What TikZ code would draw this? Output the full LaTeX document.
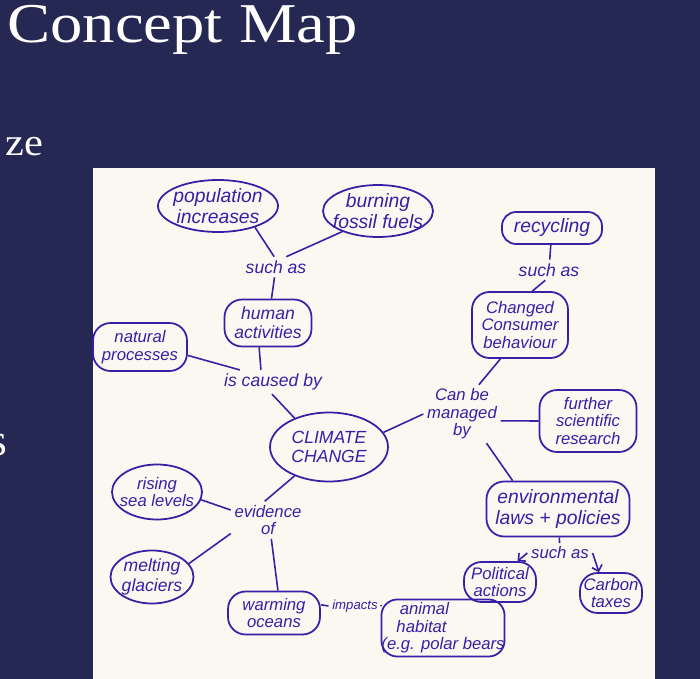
\documentclass[tikz,border=0pt]{standalone}
\usepackage{fontspec}
\setmainfont{Liberation Serif}
\newfontfamily\handfont{Liberation Sans}
\usepackage{xcolor}
\usepackage{tikz}
\usetikzlibrary{arrows.meta, shapes.geometric}

\definecolor{slidebg}{RGB}{36,40,82}
\definecolor{paper}{RGB}{250,248,241}
\definecolor{ink}{RGB}{58,30,165}

\newcommand{\handbig}{\handfont\itshape\fontsize{11}{12}\selectfont}
\newcommand{\handmid}{\handfont\itshape\fontsize{10}{11}\selectfont}
\newcommand{\handsmall}{\handfont\itshape\fontsize{9.5}{10}\selectfont}
\newcommand{\handtiny}{\handfont\itshape\fontsize{7.5}{8}\selectfont}

\begin{document}
\begin{tikzpicture}[x=0.02cm, y=-0.02cm,
  bubble/.style={draw=ink, line width=1pt, rounded corners=10pt, text=ink, align=center, inner sep=0pt, font=\handbig},
  oval/.style={bubble, ellipse, sharp corners, inner sep=-4pt},
  linkword/.style={text=ink, align=center, inner sep=2pt, font=\handmid},
  link/.style={ink, line width=0.9pt}]
% Slide background and the photo of the hand-drawn map
\fill[slidebg] (0,0) rectangle (700,679);
\useasboundingbox (0,0) rectangle (700,679);
\fill[paper] (93,168) rectangle (655,679);
% Slide text (the slide's letters are a little wider than Times)
\node[white, font=\fontsize{32}{36}\selectfont, anchor=base west, inner sep=0pt] (title) at (7,43) {\scalebox{1.15}[1]{Concept Map}};
\node[white, font=\fontsize{22}{26}\selectfont, anchor=base west, inner sep=0pt] (zefrag) at (5,155) {\scalebox{1.1}[1]{ze}};
\node[white, font=\fontsize{26}{30}\selectfont, anchor=base east, inner sep=0pt] (sfrag) at (8,455) {s};

% Causes (top left)
\node[oval, minimum width=2.4cm, minimum height=1.04cm] (pop) at (218,206) {population\\increases};
\node[oval, minimum width=2.2cm, minimum height=1.04cm] (fuels) at (378,211) {burning\\fossil fuels};
\node[linkword] (such1) at (276,267) {such as};
\node[bubble, font=\handmid, minimum width=1.74cm, minimum height=0.94cm] (human) at (268,323) {human\\activities};
\node[bubble, font=\handsmall, minimum width=1.88cm, minimum height=0.96cm] (natural) at (140,347) {natural\\processes};
\node[linkword] (caused) at (273,382) {is caused by};
% Centre
\node[oval, font=\handmid, minimum width=2.36cm, minimum height=1.38cm] (climate) at (329,447) {CLIMATE\\CHANGE};
% Management (right)
\node[bubble, rounded corners=8pt, minimum width=2cm, minimum height=0.64cm] (recycle) at (552,228) {recycling};
\node[linkword] (such2) at (549,270) {such as};
\node[bubble, font=\handsmall, minimum width=1.92cm, minimum height=1.32cm] (consumer) at (520,325) {Changed\\Consumer\\behaviour};
\node[linkword, font=\handsmall] (managed) at (462,414) {Can be\\managed\\by};
\node[bubble, font=\handsmall, minimum width=1.94cm, minimum height=1.24cm] (research) at (588,421) {further\\scientific\\research};
\node[bubble, minimum width=2.86cm, minimum height=1.1cm] (laws) at (558,509) {environmental\\laws + policies};
\node[linkword, font=\handsmall] (such3) at (560,553) {such as};
\node[bubble, font=\handsmall, minimum width=1.44cm, minimum height=0.8cm] (political) at (500,582) {Political\\actions};
\node[bubble, font=\handsmall, minimum width=1.24cm, minimum height=0.8cm] (carbon) at (611,593) {Carbon\\taxes};
% Evidence (bottom left)
\node[linkword, font=\handsmall] (evidence) at (268,520) {evidence\\of};
\node[oval, font=\handsmall, minimum width=1.8cm, minimum height=1.1cm] (rising) at (157,492) {rising\\sea levels};
\node[oval, font=\handmid, minimum width=1.66cm, minimum height=1.06cm] (melting) at (152,577) {melting\\glaciers};
\node[bubble, font=\handsmall, minimum width=1.84cm, minimum height=0.86cm] (warming) at (274,613) {warming\\oceans};
\node[linkword, font=\handtiny] (impacts) at (355,606) {impacts};
\node[bubble, font=\handsmall, rounded corners=9pt, minimum width=2.4cm, minimum height=1.14cm, align=left] (habitat) at (443,628) {\hspace{1.1em}animal\\\hspace{0.9em}habitat\\(e.g. polar bears};

% Connectors
\draw[link] (pop.-30) -- (such1.100);
\draw[link] (fuels.-150) -- (such1.45);
\draw[link] (such1) -- (human);
\draw[link] (natural.-10) -- (caused.160);
\draw[link] (human.-110) -- (caused.135);
\draw[link] (caused.-95) -- (climate.140);
\draw[link] (recycle) -- (such2);
\draw[link] (such2.-110) -- (consumer.70);
\draw[link] (consumer.-120) -- (managed.60);
\draw[link] (climate.15) -- (managed.west);
\draw[link] (managed.-10) -- (research.west);
\draw[link] (managed.-50) -- (laws.148);
\draw[link] (laws) -- (such3);
\draw[link, -{Straight Barb[length=3pt]}] (such3.west) -- (political.50);
\draw[link, -{Straight Barb[length=3pt]}] (such3.east) -- (carbon.120);
\draw[link] (climate.-140) -- (evidence.100);
\draw[link] (rising.-10) -- (evidence.165);
\draw[link] (evidence.-160) -- (melting.20);
\draw[link] (evidence.-80) -- (warming.80);
\draw[link] (warming.10) -- (impacts.west);
\draw[link] (impacts.east) -- (habitat.160);
\end{tikzpicture}
\end{document}
